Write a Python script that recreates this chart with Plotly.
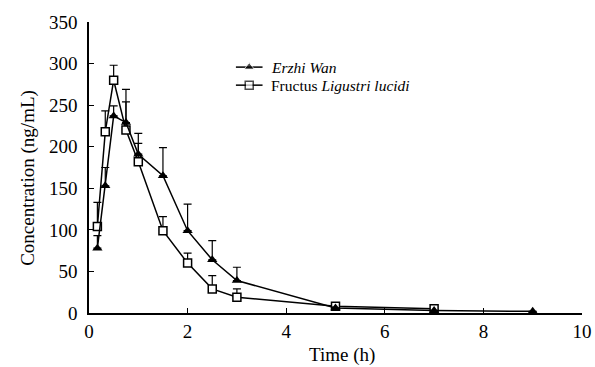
import plotly.graph_objects as go

# Data
t_erzhi = [0.17, 0.33, 0.5, 0.75, 1, 1.5, 2, 2.5, 3, 5, 7, 9]
erzhi = [78, 153, 237, 229, 191, 165, 99, 64, 39, 6, 3, 2]
erzhi_sd = [15, 22, 12, 40, 25, 34, 32, 23, 16, 0, 0, 0]

t_fructus = [0.17, 0.33, 0.5, 0.75, 1, 1.5, 2, 2.5, 3, 5, 7]
fructus = [104, 218, 280, 220, 182, 99, 60, 29, 19, 8, 5]
fructus_sd = [29, 25, 18, 34, 22, 17, 12, 16, 10, 0, 0]

x_ticks = [0, 2, 4, 6, 8, 10]
y_ticks = [0, 50, 100, 150, 200, 250, 300, 350]

series_names = ["<i>Erzhi Wan</i>", "Fructus <i>Ligustri lucidi</i>"]

FONT = "Liberation Serif"
TICK_SIZE = 19
TITLE_SIZE = 19
LEG_SIZE = 15.5

fig = go.Figure()

sq_marker = dict(symbol="square", size=8, color="white", line=dict(color="black", width=1.5))
tri_marker = dict(symbol="triangle-up", size=9, color="black")

fig.add_trace(go.Scatter(
    x=t_fructus, y=fructus, mode="lines+markers", showlegend=False,
    line=dict(color="black", width=1.5), marker=sq_marker,
    error_y=dict(type="data", symmetric=False, array=fructus_sd,
                 arrayminus=[0] * len(fructus_sd), color="black",
                 thickness=1.2, width=4),
))

fig.add_trace(go.Scatter(
    x=t_erzhi, y=erzhi, mode="lines+markers", showlegend=False,
    line=dict(color="black", width=1.5), marker=tri_marker,
    error_y=dict(type="data", symmetric=False, array=erzhi_sd,
                 arrayminus=[0] * len(erzhi_sd), color="black",
                 thickness=1.2, width=4),
))

# Manual legend on an overlay axis (0..1 in both directions)
leg_x = [0.298, 0.325, 0.352]
leg_rows = [0.845, 0.783]
for row_y, marker in zip(leg_rows, [tri_marker, sq_marker]):
    m = dict(marker)
    m["size"] = [0, marker["size"], 0]
    fig.add_trace(go.Scatter(
        x=leg_x, y=[row_y] * 3, mode="lines+markers", showlegend=False,
        xaxis="x2", yaxis="y2", hoverinfo="skip",
        line=dict(color="black", width=1.5), marker=m,
    ))
for row_y, name in zip(leg_rows, series_names):
    fig.add_annotation(x=0.366, y=row_y, xref="x2", yref="y2", text=name,
                       showarrow=False, xanchor="left", yanchor="middle",
                       font=dict(family=FONT, size=LEG_SIZE, color="black"))

# Axis titles
fig.add_annotation(x=0.513, y=-0.145, xref="paper", yref="paper", text="Time (h)",
                   showarrow=False, xanchor="center", yanchor="middle",
                   font=dict(family=FONT, size=TITLE_SIZE, color="black"))
fig.add_annotation(x=-0.124, y=0.464, xref="paper", yref="paper",
                   text="Concentration (ng/mL)", textangle=-90,
                   showarrow=False, xanchor="center", yanchor="middle",
                   font=dict(family=FONT, size=TITLE_SIZE, color="black"))

fig.update_layout(
    width=595, height=367,
    margin=dict(l=89, r=13, t=22, b=54),
    paper_bgcolor="white", plot_bgcolor="white",
    font=dict(family=FONT, size=TICK_SIZE, color="black"),
    showlegend=False,
    xaxis=dict(range=[0, 10], tickvals=x_ticks, ticktext=[str(v) for v in x_ticks],
               showline=True, linecolor="black", linewidth=1.5,
               ticks="inside", ticklen=5, tickcolor="black", tickwidth=1,
               showgrid=False, zeroline=False, automargin=False,
               ticklabelstandoff=0,
               tickfont=dict(family=FONT, size=TICK_SIZE)),
    yaxis=dict(range=[0, 350], tickvals=y_ticks, ticktext=[str(v) for v in y_ticks],
               showline=True, linecolor="black", linewidth=1.5,
               ticks="inside", ticklen=5, tickcolor="black", tickwidth=1,
               showgrid=False, zeroline=False, automargin=False,
               ticklabelstandoff=6,
               tickfont=dict(family=FONT, size=TICK_SIZE)),
    xaxis2=dict(range=[0, 1], overlaying="x", visible=False, fixedrange=True),
    yaxis2=dict(range=[0, 1], overlaying="y", visible=False, fixedrange=True),
)

fig.write_html("out.html")
